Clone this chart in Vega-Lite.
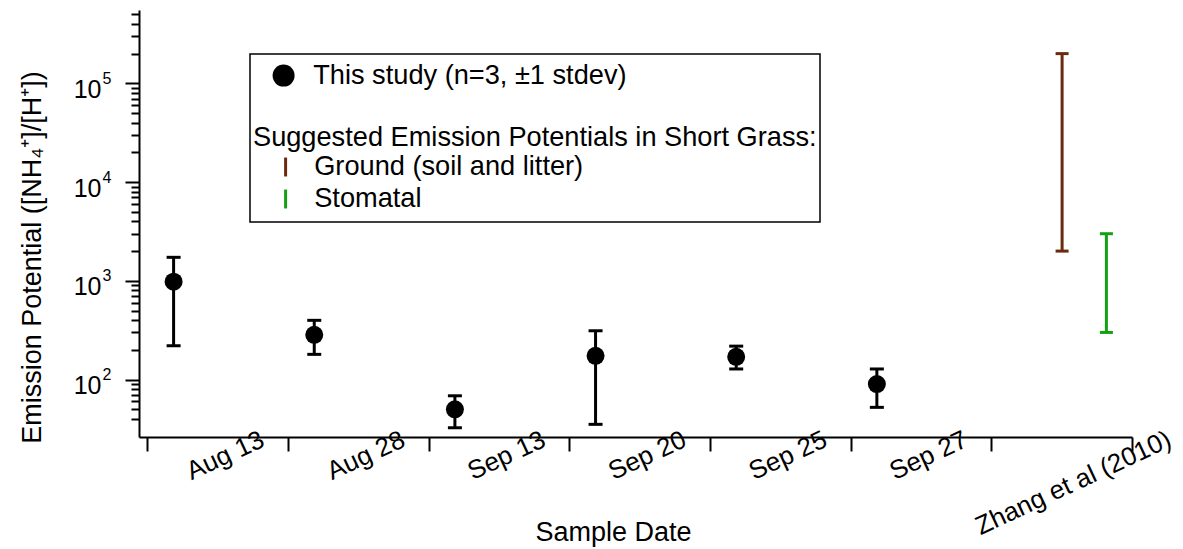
{
  "$schema": "https://vega.github.io/schema/vega-lite/v6.json",
  "width": 993,
  "height": 427,
  "autosize": {"type": "none"},
  "padding": {"left": 139, "top": 10, "right": 51, "bottom": 112},
  "background": "white",
  "config": {
    "view": {"stroke": null},
    "font": "Liberation Sans",
    "axis": {
      "labelFont": "Liberation Sans",
      "titleFont": "Liberation Sans",
      "titleFontWeight": "normal",
      "domainColor": "black",
      "tickColor": "black",
      "labelColor": "black",
      "titleColor": "black",
      "domainWidth": 2,
      "tickWidth": 2,
      "grid": false
    },
    "axisX": {"labelFontSize": 26},
    "legend": {
      "orient": "none",
      "labelFont": "Liberation Sans",
      "labelFontSize": 27.2,
      "labelColor": "black",
      "labelLimit": 1000,
      "titleFont": "Liberation Sans",
      "titleFontSize": 27.2,
      "titleFontWeight": "normal",
      "titleColor": "black",
      "titleLimit": 1000,
      "symbolSize": 484,
      "strokeWidth": 1.5
    }
  },
  "data": {
    "values": [
      {"date": "Aug 13", "series": "This study (n=3, ±1 stdev)", "val": 980, "lo": 220, "hi": 1730},
      {"date": "Aug 28", "series": "This study (n=3, ±1 stdev)", "val": 284, "lo": 180, "hi": 398},
      {"date": "Sep 13", "series": "This study (n=3, ±1 stdev)", "val": 50, "lo": 32.5, "hi": 68.5},
      {"date": "Sep 20", "series": "This study (n=3, ±1 stdev)", "val": 174, "lo": 35.2, "hi": 312},
      {"date": "Sep 25", "series": "This study (n=3, ±1 stdev)", "val": 170, "lo": 128, "hi": 218},
      {"date": "Sep 27", "series": "This study (n=3, ±1 stdev)", "val": 90, "lo": 52.3, "hi": 128},
      {"date": "Zhang et al (2010)", "series": "Ground (soil and litter)", "lo": 2000, "hi": 200000},
      {"date": "Zhang et al (2010)", "series": "Stomatal", "lo": 300, "hi": 3000}
    ]
  },
  "resolve": {"axis": {"y": "independent"}},
  "layer": [
    {
      "transform": [{"filter": "datum.series === 'This study (n=3, ±1 stdev)'"}],
      "mark": {"type": "rule", "color": "black", "strokeWidth": 3},
      "encoding": {
        "x": {
          "field": "date", "type": "nominal", "bandPosition": 0.186,
          "scale": {"domain": ["Aug 13", "Aug 28", "Sep 13", "Sep 20", "Sep 25", "Sep 27", "Zhang et al (2010)"], "paddingInner": 0, "paddingOuter": 0.03, "align": 1},
          "axis": {
            "title": "Sample Date",
            "titleFontSize": 27,
            "titleX": 474,
            "titleY": 103,
            "titleBaseline": "alphabetic",
            "titleAlign": "center",
            "labelAngle": -25,
            "labelAlign": "right",
            "labelBaseline": "top",
            "labelFontSize": 26,
            "labelPadding": -25,
            "labelOffset": {"condition": {"test": "datum.value === 'Zhang et al (2010)'", "value": 102}, "value": 39},
            "tickBand": "extent",
            "tickSize": 14,
            "labelOverlap": false,
            "labelBound": false,
            "labelFlush": false,
            "labelLimit": 1000
          }
        },
        "y": {
          "field": "lo", "type": "quantitative",
          "scale": {"type": "log", "domain": [26.2, 553000]},
          "axis": {
            "orient": "left",
            "values": [40, 50, 60, 70, 80, 90, 100, 200, 300, 400, 500, 600, 700, 800, 900, 1000, 2000, 3000, 4000, 5000, 6000, 7000, 8000, 9000, 10000, 20000, 30000, 40000, 50000, 60000, 70000, 80000, 90000, 100000, 200000, 300000, 400000, 500000],
            "labelExpr": "datum.value == 100 || datum.value == 1000 || datum.value == 10000 || datum.value == 100000 ? '10' : ''",
            "tickSize": {"condition": {"test": "datum.value == 100 || datum.value == 1000 || datum.value == 10000 || datum.value == 100000", "value": 14}, "value": 8},
            "labelPadding": 24,
            "labelOffset": 6,
            "labelFontSize": 25,
            "labelOverlap": false,
            "labelBound": false,
            "labelFlush": false,
            "title": "Emission Potential ([NH₄⁺]/[H⁺])",
            "titleFontSize": 27,
            "titleAngle": 270,
            "titleX": -99,
            "titleY": 247,
            "titleBaseline": "alphabetic",
            "titleAlign": "center"
          }
        },
        "y2": {"field": "hi"}
      }
    },
    {
      "transform": [{"filter": "datum.series === 'This study (n=3, ±1 stdev)'"}, {"fold": ["lo", "hi"], "as": ["end", "bound"]}],
      "mark": {"type": "point", "shape": "M-1,0L1,0", "filled": false, "color": "black", "size": 196, "strokeWidth": 3, "strokeCap": "butt", "opacity": 1},
      "encoding": {
        "x": {"field": "date", "type": "nominal", "bandPosition": 0.186, "scale": {"domain": ["Aug 13", "Aug 28", "Sep 13", "Sep 20", "Sep 25", "Sep 27", "Zhang et al (2010)"], "paddingInner": 0, "paddingOuter": 0.03, "align": 1}},
        "y": {
          "field": "bound", "type": "quantitative",
          "scale": {"type": "log", "domain": [26.2, 553000]},
          "axis": {
            "orient": "left",
            "values": [100, 1000, 10000, 100000],
            "labelExpr": "'' + round(log(datum.value) / LN10)",
            "ticks": false,
            "tickSize": 0,
            "domain": false,
            "labelAlign": "left",
            "labelPadding": 37,
            "labelOffset": -5,
            "labelFontSize": 16,
            "labelOverlap": false,
            "labelBound": false,
            "labelFlush": false,
            "title": null
          }
        }
      }
    },
    {
      "transform": [{"filter": "datum.series === 'This study (n=3, ±1 stdev)'"}],
      "mark": {"type": "point", "filled": true, "size": 324, "opacity": 1},
      "encoding": {
        "x": {"field": "date", "type": "nominal", "bandPosition": 0.186, "scale": {"domain": ["Aug 13", "Aug 28", "Sep 13", "Sep 20", "Sep 25", "Sep 27", "Zhang et al (2010)"], "paddingInner": 0, "paddingOuter": 0.03, "align": 1}},
        "y": {"field": "val", "type": "quantitative", "scale": {"type": "log", "domain": [26.2, 553000]}, "axis": null},
        "color": {
          "field": "series", "type": "nominal",
          "scale": {"domain": ["This study (n=3, ±1 stdev)"], "range": ["black"]},
          "legend": {
            "title": null,
            "legendX": 131,
            "legendY": 52,
            "padding": 0,
            "symbolOffset": 0,
            "labelOffset": 16,
            "symbolType": "circle",
            "symbolSize": 484,
            "symbolStrokeWidth": 0,
            "strokeColor": null,
            "fillColor": null
          }
        }
      }
    },
    {
      "transform": [{"filter": "datum.series === 'Ground (soil and litter)'"}],
      "mark": {"type": "rule", "strokeWidth": 3},
      "encoding": {
        "x": {"field": "date", "type": "nominal", "bandPosition": 0.503, "scale": {"domain": ["Aug 13", "Aug 28", "Sep 13", "Sep 20", "Sep 25", "Sep 27", "Zhang et al (2010)"], "paddingInner": 0, "paddingOuter": 0.03, "align": 1}},
        "y": {"field": "lo", "type": "quantitative", "scale": {"type": "log", "domain": [26.2, 553000]}, "axis": null},
        "y2": {"field": "hi"},
        "stroke": {
          "field": "series", "type": "nominal",
          "scale": {"domain": ["Ground (soil and litter)", "Stomatal"], "range": ["#6B2A0E", "#13A113"]},
          "legend": {
            "title": ["\u00a0", "\u00a0", "Suggested Emission Potentials in Short Grass:"],
            "titleLineHeight": 67.6,
            "titlePadding": -66,
            "titleAnchor": "start",
            "legendX": 111,
            "legendY": 44,
            "padding": 3,
            "rowPadding": 0,
            "symbolOffset": 19,
            "labelOffset": 15,
            "symbolType": "M0,-0.86L0,0.86",
            "symbolSize": 484,
            "symbolStrokeWidth": 3,
            "strokeColor": "black",
            "fillColor": null
          }
        }
      }
    },
    {
      "transform": [{"filter": "datum.series === 'Ground (soil and litter)'"}, {"fold": ["lo", "hi"], "as": ["end", "bound"]}],
      "mark": {"type": "point", "shape": "M-1,0L1,0", "filled": false, "color": "#6B2A0E", "size": 169, "strokeWidth": 3, "strokeCap": "butt", "opacity": 1},
      "encoding": {
        "x": {"field": "date", "type": "nominal", "bandPosition": 0.503, "scale": {"domain": ["Aug 13", "Aug 28", "Sep 13", "Sep 20", "Sep 25", "Sep 27", "Zhang et al (2010)"], "paddingInner": 0, "paddingOuter": 0.03, "align": 1}},
        "y": {"field": "bound", "type": "quantitative", "scale": {"type": "log", "domain": [26.2, 553000]}, "axis": null}
      }
    },
    {
      "transform": [{"filter": "datum.series === 'Stomatal'"}],
      "mark": {"type": "rule", "strokeWidth": 3},
      "encoding": {
        "x": {"field": "date", "type": "nominal", "bandPosition": 0.818, "scale": {"domain": ["Aug 13", "Aug 28", "Sep 13", "Sep 20", "Sep 25", "Sep 27", "Zhang et al (2010)"], "paddingInner": 0, "paddingOuter": 0.03, "align": 1}},
        "y": {"field": "lo", "type": "quantitative", "scale": {"type": "log", "domain": [26.2, 553000]}, "axis": null},
        "y2": {"field": "hi"},
        "stroke": {
          "field": "series", "type": "nominal",
          "scale": {"domain": ["Ground (soil and litter)", "Stomatal"], "range": ["#6B2A0E", "#13A113"]}
        }
      }
    },
    {
      "transform": [{"filter": "datum.series === 'Stomatal'"}, {"fold": ["lo", "hi"], "as": ["end", "bound"]}],
      "mark": {"type": "point", "shape": "M-1,0L1,0", "filled": false, "color": "#13A113", "size": 169, "strokeWidth": 3, "strokeCap": "butt", "opacity": 1},
      "encoding": {
        "x": {"field": "date", "type": "nominal", "bandPosition": 0.818, "scale": {"domain": ["Aug 13", "Aug 28", "Sep 13", "Sep 20", "Sep 25", "Sep 27", "Zhang et al (2010)"], "paddingInner": 0, "paddingOuter": 0.03, "align": 1}},
        "y": {"field": "bound", "type": "quantitative", "scale": {"type": "log", "domain": [26.2, 553000]}, "axis": null}
      }
    }
  ]
}
